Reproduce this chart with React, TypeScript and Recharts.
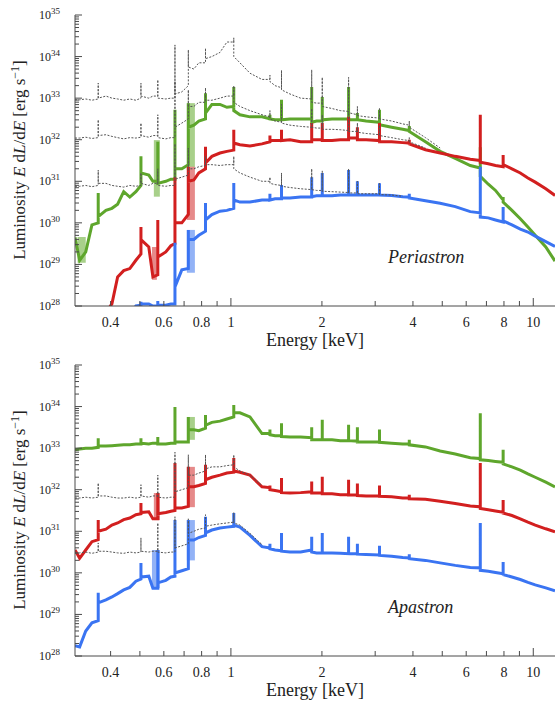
import { Area, ComposedChart, Line, XAxis, YAxis } from "recharts";

// energy grid in keV; a value repeated three times is an emission line (level before, peak, level after)
const ENERGY = [
  0.305, 0.316, 0.331, 0.347, 0.364, 0.364, 0.364,
  0.386, 0.404, 0.422, 0.442, 0.463, 0.485, 0.504, 0.504, 0.504,
  0.535, 0.552, 0.573, 0.573, 0.573, 0.609, 0.633, 0.653, 0.653, 0.653,
  0.688, 0.723, 0.723, 0.723, 0.754, 0.783, 0.824, 0.824, 0.824,
  0.865, 0.92, 0.97, 1.022, 1.022, 1.022, 1.071, 1.156, 1.267,
  1.346, 1.346, 1.346, 1.4, 1.47, 1.47, 1.47, 1.568, 1.7,
  1.85, 1.85, 1.85, 1.92, 2.005, 2.005, 2.005, 2.16, 2.3,
  2.45, 2.45, 2.45, 2.62, 2.62, 2.62, 2.8, 3.1, 3.1, 3.1,
  3.4, 3.7, 3.89, 3.89, 3.89, 4.4, 4.92, 5.52, 6.19,
  6.68, 6.68, 6.68, 7.1, 7.5, 7.95, 7.95, 7.95, 8.5, 9.06, 9.6, 10.15, 11.0, 11.8,
];

// log10 luminosity [erg/s], periastron
const PERI_GREEN = [
  29.65, 29.1, 29.3, 29.95, 30.0, 30.72, 30.15,
  30.3, 30.35, 30.45, 30.75, 30.62, 30.75, 30.9, 31.6, 31.2,
  31.15, 31.0, 31.0, 31.95, 30.95, 31.0, 31.05, 31.05, 32.72, 31.3,
  31.3, 31.4, 32.88, 32.3, 32.35, 32.45, 32.5, 33.12, 32.64,
  32.85, 32.85, 32.78, 32.8, 33.27, 32.7, 32.6, 32.55, 32.55,
  32.5, 32.6, 32.5, 32.48, 32.48, 32.96, 32.48, 32.5, 32.5,
  32.5, 33.27, 32.42, 32.45, 32.45, 33.03, 32.48, 32.5, 32.5,
  32.5, 33.27, 32.48, 32.48, 32.64, 32.48, 32.45, 32.42, 32.72, 32.36,
  32.3, 32.25, 32.22, 32.33, 32.2, 31.95, 31.72, 31.55, 31.38,
  31.32, 31.82, 31.12, 30.93, 30.78, 30.55, 30.62, 30.5, 30.3, 30.1, 29.9, 29.7, 29.42, 29.08,
];
const PERI_RED = [
  27.0, 27.2, 27.4, 27.6, 27.7, 27.9, 27.75,
  27.85, 28.05, 28.7, 28.85, 28.9, 29.1, 29.25, 29.9, 29.6,
  29.42, 28.7, 28.75, 30.07, 29.18, 29.3, 29.45, 29.5, 31.1, 30.0,
  30.0, 30.2, 31.35, 31.0, 31.03, 31.2, 31.3, 31.83, 31.44,
  31.6, 31.68, 31.72, 31.75, 32.24, 31.92, 31.88, 31.85, 31.9,
  31.95, 32.1, 31.98, 31.98, 31.98, 32.24, 31.98, 32.0, 31.95,
  31.95, 32.4, 32.0, 32.0, 32.0, 32.4, 31.98, 31.98, 32.0,
  32.0, 32.55, 32.04, 32.04, 32.3, 32.0, 32.0, 31.98, 32.4, 31.95,
  31.95, 31.93, 31.92, 32.0, 31.9, 31.76, 31.68, 31.6, 31.53,
  31.5, 32.6, 31.46, 31.42, 31.38, 31.35, 31.63, 31.4, 31.3, 31.2, 31.08, 30.98, 30.82, 30.66,
];
const PERI_BLUE = [
  26.0, 26.2, 26.4, 26.6, 26.8, 26.9, 26.8,
  27.0, 27.2, 27.4, 27.6, 27.8, 28.0, 28.02, 28.1, 28.05,
  28.05, 28.0, 28.0, 28.12, 28.02, 28.02, 28.05, 28.05, 29.52, 28.46,
  28.87, 28.9, 29.83, 29.6, 29.6, 29.7, 29.8, 30.48, 30.07,
  30.2, 30.28, 30.3, 30.35, 30.96, 30.55, 30.5, 30.5, 30.55,
  30.55, 30.7, 30.55, 30.58, 30.58, 30.91, 30.6, 30.6, 30.62,
  30.62, 31.1, 30.63, 30.65, 30.65, 31.2, 30.65, 30.65, 30.67,
  30.67, 31.27, 30.67, 30.67, 31.0, 30.67, 30.67, 30.67, 30.95, 30.67,
  30.66, 30.63, 30.62, 30.7, 30.6, 30.53, 30.47, 30.39, 30.27,
  30.24, 31.35, 30.14, 30.12, 30.07, 30.02, 30.38, 30.05, 29.95, 29.85, 29.78, 29.68, 29.55, 29.43,
];
// dotted curves (stop where they join the coloured ones)
const PERI_DOT_HI = [
  32.96, 32.96, 32.98, 32.95, 32.98, 33.36, 33.0,
  33.05, 33.0, 32.98, 32.95, 32.98, 32.95, 33.0, 33.36, 33.05,
  33.0, 33.05, 33.05, 33.44, 33.0, 32.98, 33.0, 33.0, 34.28, 33.1,
  33.15, 33.3, 34.16, 33.75, 33.7, 33.85, 33.85, 34.2, 33.95,
  34.0, 34.1, 34.35, 34.35, 34.45, 34.0, 33.85, 33.6, 33.45,
  33.45, 33.55, 33.4, 33.3, 33.25, 33.67, 33.2, 33.1, 33.0,
  32.98, 33.68, 32.9, 32.88, 32.88, 33.5, 32.8, 32.75, 32.7,
  32.68, 33.5, 32.65, 32.6, 32.8, 32.58, 32.55, 32.52, 32.75, 32.5,
  32.45, 32.38, 32.35, 32.45, 32.3, 32.05, 31.8,
];
const PERI_DOT_MID = [
  32.04, 32.04, 32.06, 32.03, 32.05, 32.48, 32.1,
  32.12, 32.08, 32.05, 32.02, 32.05, 32.04, 32.06, 32.4, 32.1,
  32.06, 32.1, 32.1, 32.6, 32.05, 32.02, 32.05, 32.05, 33.4, 32.3,
  32.4, 32.5, 33.2, 32.8, 32.8, 32.9, 32.9, 33.25, 32.95,
  32.95, 33.0, 33.05, 33.05, 33.3, 32.9, 32.8, 32.7, 32.6,
  32.55, 32.7, 32.5, 32.45, 32.42, 32.85, 32.4, 32.35, 32.32,
  32.3, 32.75, 32.3, 32.28, 32.28, 32.6, 32.25, 32.25, 32.24,
  32.22, 32.65, 32.2, 32.2, 32.4, 32.18, 32.15, 32.12, 32.35, 32.1,
  32.05, 32.0, 31.98, 32.05, 31.95, 31.8,
];
const PERI_DOT_LO = [
  30.88, 30.88, 30.9, 30.87, 30.9, 31.27, 30.95,
  30.95, 30.9, 30.88, 30.86, 30.9, 30.88, 30.9, 31.2, 30.95,
  30.9, 30.95, 30.95, 31.3, 30.9, 30.88, 30.9, 30.9, 31.9, 31.05,
  31.1, 31.15, 31.8, 31.3, 31.3, 31.35, 31.38, 31.6, 31.4,
  31.4, 31.38, 31.4, 31.4, 31.6, 31.3, 31.2, 31.1, 31.0,
  31.0, 31.1, 30.95, 30.92, 30.9, 31.2, 30.88, 30.85, 30.82,
  30.8, 31.3, 30.8, 30.78, 30.78, 31.25, 30.76, 30.75, 30.74,
  30.73, 31.3, 30.72, 30.72, 31.0, 30.7, 30.7, 30.7, 30.95, 30.68,
  30.67, 30.64,
];
// light blended-line blocks: [E from, E to, log L low, log L high]
const PERI_GREEN_BANDS = [[0.311, 0.331, 29.04, 29.66], [0.556, 0.582, 30.63, 31.99], [0.715, 0.76, 31.27, 32.88]];
const PERI_RED_BANDS = [[0.548, 0.569, 28.63, 29.42], [0.715, 0.76, 30.07, 31.35]];
const PERI_BLUE_BANDS = [[0.715, 0.76, 28.8, 29.83]];

// log10 luminosity [erg/s], apastron
const APA_GREEN = [
  32.96, 32.98, 33.0, 33.0, 33.02, 33.24, 33.05,
  33.05, 33.06, 33.07, 33.08, 33.08, 33.1, 33.1, 33.24, 33.12,
  33.1, 33.12, 33.12, 33.27, 33.1, 33.1, 33.12, 33.12, 33.99, 33.15,
  33.15, 33.15, 33.75, 33.44, 33.44, 33.42, 33.48, 33.8, 33.55,
  33.62, 33.65, 33.7, 33.75, 34.04, 33.85, 33.85, 33.75, 33.35,
  33.35, 33.45, 33.32, 33.3, 33.3, 33.6, 33.28, 33.27, 33.27,
  33.25, 33.5, 33.2, 33.2, 33.2, 33.68, 33.2, 33.2, 33.18,
  33.18, 33.56, 33.18, 33.17, 33.5, 33.15, 33.15, 33.15, 33.45, 33.14,
  33.12, 33.1, 33.1, 33.2, 33.08, 33.03, 32.93, 32.86, 32.77,
  32.75, 33.84, 32.72, 32.7, 32.68, 32.66, 32.96, 32.62, 32.55, 32.47, 32.38, 32.3, 32.18, 32.07,
];
const APA_RED = [
  30.55, 30.35, 30.55, 30.75, 30.8, 31.27, 31.0,
  31.05, 31.15, 31.2, 31.28, 31.32, 31.4, 31.42, 31.68, 31.45,
  31.47, 31.3, 31.3, 31.92, 31.42, 31.45, 31.48, 31.5, 32.64, 31.56,
  31.56, 31.6, 32.55, 32.07, 32.07, 32.1, 32.15, 32.6, 32.24,
  32.3, 32.35, 32.4, 32.42, 32.76, 32.45, 32.42, 32.35, 32.07,
  32.05, 32.1, 32.0, 31.98, 31.95, 32.28, 31.93, 31.92, 31.93,
  31.95, 32.2, 31.92, 31.92, 31.92, 32.31, 31.9, 31.9, 31.88,
  31.88, 32.24, 31.87, 31.87, 32.15, 31.86, 31.85, 31.85, 32.1, 31.84,
  31.83, 31.8, 31.8, 31.88, 31.78, 31.77, 31.72, 31.67, 31.61,
  31.59, 32.64, 31.55, 31.52, 31.49, 31.46, 31.75, 31.44, 31.38, 31.3, 31.22, 31.15, 31.06, 30.99,
];
const APA_BLUE = [
  28.25, 28.22, 28.6, 28.8, 28.85, 29.52, 29.28,
  29.35, 29.42, 29.5, 29.59, 29.65, 29.8, 29.85, 30.24, 29.9,
  29.92, 29.63, 29.63, 30.55, 29.76, 29.82, 29.9, 29.92, 31.27, 30.0,
  30.05, 30.1, 31.27, 30.79, 30.79, 30.85, 30.9, 31.35, 30.96,
  31.03, 31.08, 31.1, 31.12, 31.44, 31.15, 31.1, 30.9, 30.63,
  30.6, 30.7, 30.58, 30.55, 30.53, 30.96, 30.52, 30.5, 30.5,
  30.55, 30.87, 30.5, 30.48, 30.48, 30.96, 30.48, 30.48, 30.47,
  30.46, 30.87, 30.46, 30.46, 30.7, 30.45, 30.44, 30.43, 30.65, 30.42,
  30.4, 30.37, 30.36, 30.45, 30.34, 30.3, 30.24, 30.18, 30.13,
  30.12, 31.2, 30.06, 30.04, 30.01, 29.98, 30.26, 29.96, 29.9, 29.84, 29.77, 29.71, 29.64, 29.57,
];
const APA_DOT_MID = [
  31.8, 31.8, 31.82, 31.8, 31.82, 32.16, 31.85,
  31.85, 31.82, 31.8, 31.8, 31.82, 31.8, 31.82, 32.12, 31.85,
  31.82, 31.85, 31.85, 32.35, 31.82, 31.8, 31.82, 31.82, 32.9, 31.95,
  32.0, 32.05, 32.84, 32.35, 32.35, 32.4, 32.45, 32.84, 32.5,
  32.55, 32.55, 32.58, 32.6, 32.84, 32.55, 32.45, 32.35, 32.1,
];
const APA_DOT_LO = [
  30.48, 30.48, 30.5, 30.47, 30.5, 30.72, 30.52,
  30.52, 30.5, 30.48, 30.47, 30.5, 30.48, 30.5, 30.84, 30.52,
  30.5, 30.52, 30.52, 31.2, 30.5, 30.48, 30.5, 30.5, 31.35, 30.6,
  30.65, 30.7, 31.3, 30.95, 31.0, 31.05, 31.08, 31.4, 31.12,
  31.15, 31.18, 31.2, 31.22, 31.45, 31.2, 31.15, 30.95, 30.68,
];
const APA_GREEN_BANDS = [[0.715, 0.76, 33.2, 33.75]];
const APA_RED_BANDS = [[0.556, 0.582, 31.27, 31.92], [0.715, 0.76, 31.58, 32.55]];
const APA_BLUE_BANDS = [[0.548, 0.582, 29.63, 30.55], [0.715, 0.76, 30.3, 31.27]];

const X_TICKS = [0.4, 0.5, 0.6, 0.7, 0.8, 0.9, 1, 2, 3, 4, 5, 6, 7, 8, 9, 10];
const X_LABELS = [0.4, 0.6, 0.8, 1, 2, 4, 6, 8, 10];
const DECADES = [28, 29, 30, 31, 32, 33, 34, 35];

const Y_TICKS = DECADES.flatMap((n) =>
  n === 35 ? [35] : [1, 2, 3, 4, 5, 6, 7, 8, 9].map((k) => n + Math.log10(k))
);

const AXIS = "#4a4a4a";
const INK = "#222";
const FONT = "'Liberation Serif', 'DejaVu Serif', serif";
const GREEN = "#5ea62c";
const RED = "#d21f1f";
const BLUE = "#3a74f2";
const GREEN_LIGHT = "#a8d08a";
const RED_LIGHT = "#e68a8a";
const BLUE_LIGHT = "#92b2f6";
const GREY = "#555";

function buildRows(series: Record<string, number[]>) {
  return ENERGY.map((e, i) => {
    const row: any = { e };
    for (const k in series) row[k] = series[k][i] ?? null;
    return row;
  });
}

const periData = buildRows({
  g: PERI_GREEN, r: PERI_RED, b: PERI_BLUE,
  d1: PERI_DOT_HI, d2: PERI_DOT_MID, d3: PERI_DOT_LO,
});
const apaData = buildRows({
  g: APA_GREEN, r: APA_RED, b: APA_BLUE,
  d2: APA_DOT_MID, d3: APA_DOT_LO,
});

const periBands = [
  ...PERI_GREEN_BANDS.map((b) => ({ b, fill: GREEN_LIGHT })),
  ...PERI_RED_BANDS.map((b) => ({ b, fill: RED_LIGHT })),
  ...PERI_BLUE_BANDS.map((b) => ({ b, fill: BLUE_LIGHT })),
];
const apaBands = [
  ...APA_GREEN_BANDS.map((b) => ({ b, fill: GREEN_LIGHT })),
  ...APA_RED_BANDS.map((b) => ({ b, fill: RED_LIGHT })),
  ...APA_BLUE_BANDS.map((b) => ({ b, fill: BLUE_LIGHT })),
];

const BottomTick = ({ x, y, payload }: any) => {
  const v = payload.value;
  const long = v === 1 || v === 10;
  return (
    <g>
      <line x1={x} x2={x} y1={y} y2={y - (long ? 8 : 5)} stroke={AXIS} />
      {X_LABELS.includes(v) && (
        <text x={x} y={y + 21} textAnchor="middle" fontSize={14} fontFamily={FONT} fill={INK}>
          {v}
        </text>
      )}
    </g>
  );
};

const TopTick = ({ x, y, payload }: any) => {
  const v = payload.value;
  const long = v === 1 || v === 10;
  return <line x1={x} x2={x} y1={y} y2={y + (long ? 8 : 5)} stroke={AXIS} />;
};

const LeftTick = ({ x, y, payload }: any) => {
  const v = payload.value;
  const major = Number.isInteger(v);
  return (
    <g>
      <line x1={x} x2={x + (major ? 7 : 4)} y1={y} y2={y} stroke={AXIS} />
      {major && (
        <text x={x - 15} y={y + 4} textAnchor="end" fontSize={12} fontFamily={FONT} fill={INK}>
          10<tspan dy={-5} fontSize={9}>{v}</tspan>
        </text>
      )}
    </g>
  );
};

const RightTick = ({ x, y, payload }: any) => {
  const major = Number.isInteger(payload.value);
  return <line x1={x} x2={x - (major ? 7 : 4)} y1={y} y2={y} stroke={AXIS} />;
};

function Panel({ data, dots, bands }: { data: any[]; dots: string[]; bands: any[] }) {
  return (
    <ComposedChart width={558} height={350} data={data} margin={{ top: 15, right: 3, bottom: 0, left: 0 }}>
      <XAxis
        dataKey="e" type="number" scale="log" domain={[0.305, 11.8]} allowDataOverflow
        ticks={X_TICKS} interval={0} tick={BottomTick} tickSize={0} tickMargin={0}
        axisLine={{ stroke: AXIS }} height={44}
      />
      <XAxis
        xAxisId="top" orientation="top" dataKey="e" type="number" scale="log"
        domain={[0.305, 11.8]} allowDataOverflow ticks={X_TICKS} interval={0}
        tick={TopTick} tickSize={0} tickMargin={0} axisLine={{ stroke: AXIS }} height={0}
      />
      <YAxis
        type="number" domain={[28, 35]} allowDataOverflow ticks={Y_TICKS} interval={0}
        tick={LeftTick} tickSize={0} tickMargin={0} axisLine={{ stroke: AXIS }} width={75}
      />
      <YAxis
        yAxisId="right" orientation="right" type="number" domain={[28, 35]} allowDataOverflow
        ticks={Y_TICKS} interval={0} tick={RightTick} tickSize={0} tickMargin={0}
        axisLine={{ stroke: AXIS }} width={0}
      />
      {bands.map(({ b, fill }, i) => (
        <Area
          key={"band" + i}
          data={[{ e: b[0], v: [b[2], b[3]] }, { e: b[1], v: [b[2], b[3]] }]}
          dataKey="v" type="linear" fill={fill} fillOpacity={1} stroke="none"
          dot={false} activeDot={false} isAnimationActive={false}
        />
      ))}
      <Line dataKey="g" type="linear" stroke={GREEN} strokeWidth={3} dot={false} activeDot={false} isAnimationActive={false} />
      <Line dataKey="r" type="linear" stroke={RED} strokeWidth={3} dot={false} activeDot={false} isAnimationActive={false} />
      <Line dataKey="b" type="linear" stroke={BLUE} strokeWidth={3} dot={false} activeDot={false} isAnimationActive={false} />
      {dots.map((k) => (
        <Line
          key={k} dataKey={k} type="linear" stroke={GREY} strokeWidth={1}
          strokeDasharray="2 1.5" dot={false} activeDot={false} isAnimationActive={false}
        />
      ))}
    </ComposedChart>
  );
}

function YLabel({ cy }: { cy: number }) {
  return (
    <text transform={`translate(25, ${cy}) rotate(-90)`} textAnchor="middle" fontSize={17} fontFamily={FONT} fill={INK}>
      Luminosity <tspan fontStyle="italic">E</tspan> d<tspan fontStyle="italic">L</tspan>/d
      <tspan fontStyle="italic">E</tspan> [erg s<tspan dy={-6} fontSize={12}>−1</tspan>
      <tspan dy={6}>]</tspan>
    </text>
  );
}

export default function App() {
  return (
    <div style={{ position: "absolute", left: 0, top: 0, width: 558, height: 703, background: "#fff" }}>
      <Panel data={periData} dots={["d1", "d2", "d3"]} bands={periBands} />
      <Panel data={apaData} dots={["d2", "d3"]} bands={apaBands} />
      <svg width={558} height={703} style={{ position: "absolute", left: 0, top: 0, pointerEvents: "none" }}>
        <YLabel cy={160} />
        <YLabel cy={510} />
        <text x={315} y={346} textAnchor="middle" fontSize={18} fontFamily={FONT} fill={INK}>Energy [keV]</text>
        <text x={315} y={696} textAnchor="middle" fontSize={18} fontFamily={FONT} fill={INK}>Energy [keV]</text>
        <text x={388} y={263} fontSize={18} fontStyle="italic" fontFamily={FONT} fill={INK}>Periastron</text>
        <text x={388} y={613} fontSize={18} fontStyle="italic" fontFamily={FONT} fill={INK}>Apastron</text>
      </svg>
    </div>
  );
}
